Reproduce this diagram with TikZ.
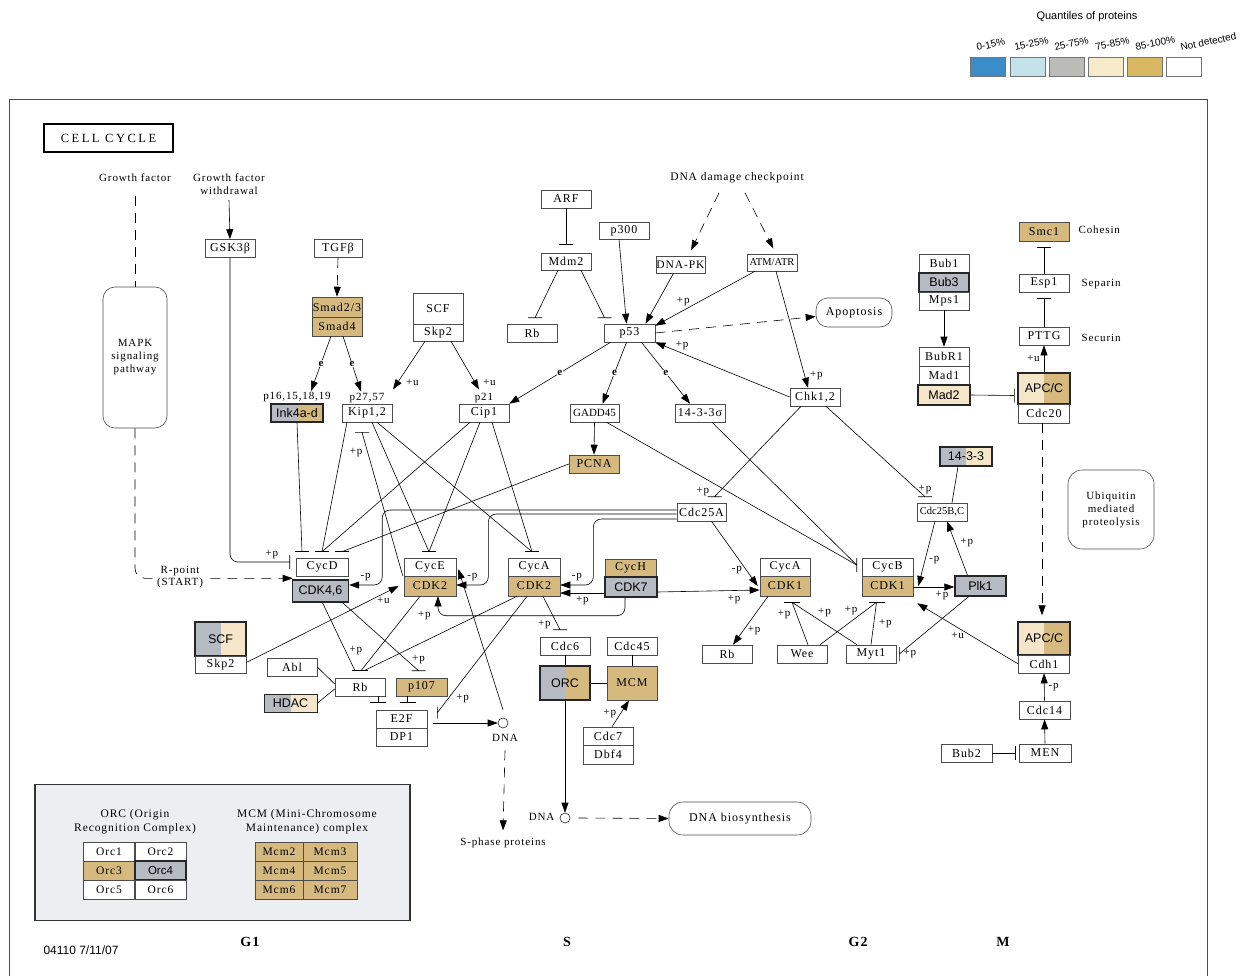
\documentclass[tikz,border=0pt]{standalone}
\usepackage{fontspec}
\setmainfont{Liberation Serif}[LetterSpace=8]
\setsansfont{Liberation Sans}
\usetikzlibrary{positioning}
\usetikzlibrary{arrows.meta}

% quantile colours (legend) and box colours
\definecolor{qblue}{HTML}{3B8DC9}
\definecolor{qlblue}{HTML}{C3E2EA}
\definecolor{qgrey}{HTML}{BBBBB7}
\definecolor{qcream}{HTML}{F7EBCB}
\definecolor{qtan}{HTML}{D9B864}
\definecolor{gtan}{HTML}{D5B97F}
\definecolor{gcream}{HTML}{F6E6C9}
\definecolor{ggrey}{HTML}{B5BAC3}
\definecolor{panelgrey}{HTML}{ECEEF1}

\begin{document}
\begin{tikzpicture}[x=1pt,y=-1pt,line width=0.6pt,font=\fontsize{11}{13}\selectfont,
  gene/.style={draw=black!70, fill=white, line width=0.6pt, minimum width=50pt, minimum height=18pt, inner sep=0pt, font=\fontsize{12}{12}\selectfont},
  qfive/.style={fill=gtan},
  qfour/.style={fill=gcream},
  qthree/.style={fill=ggrey},
  twotone/.style 2 args={path picture={
      \fill[#1] (path picture bounding box.south west) rectangle (path picture bounding box.north);
      \fill[#2] (path picture bounding box.south) rectangle (path picture bounding box.north east);}},
  found/.style={line width=1.4pt, draw=black!85, font=\sffamily\fontsize{12.5}{12}\selectfont},
  blob/.style={draw=black!70, line width=0.6pt, rounded corners=12pt, align=center},
  cell/.style={gene, minimum width=51pt, minimum height=19pt, font=\fontsize{11.5}{12}\selectfont},
  act/.style={-{Triangle[length=10pt,width=7pt]}},
  dline/.style={dash pattern=on 10pt off 7pt},
  lab/.style={font=\fontsize{11}{11}\selectfont, inner sep=1pt},
  elab/.style={midway, fill=white, inner sep=0.6pt, font=\bfseries\fontsize{11}{11}\selectfont}]
\useasboundingbox (0,0) rectangle (1258,976);

% legend
\node[font=\sffamily\fontsize{11}{12}\selectfont] (qtitle) at (1087,17) {Quantiles of proteins};
\foreach \fillc/\bx/\tx/\txt in {qblue/970/977/{0-15\%}, qlblue/1010/1015/{15-25\%}, qgrey/1049/1055/{25-75\%}, qcream/1088/1096/{75-85\%}, qtan/1127/1136/{85-100\%}, white/1166/1181/{Not detected}} {
  \draw[draw=black!55, fill=\fillc] (\bx,57) rectangle ++(35,19);
  \node[rotate=12, anchor=base west, inner sep=0pt, font=\sffamily\fontsize{10}{10}\selectfont] (q\bx) at (\tx,51) {\txt};
}

% frame and title
\draw[black!70, line width=0.9pt] (9,976) -- (9,99) -- (1207,99) -- (1207,976);
\node[draw, line width=1.4pt, minimum width=129pt, minimum height=28pt, font=\fontsize{12.5}{13}\selectfont\addfontfeature{LetterSpace=20}] (title) at (108.5,138) {CELL CYCLE};

% growth factor side
\node (gf) at (135,178) {Growth factor};
\node[align=center] (gfw) at (229,184) {Growth factor\\withdrawal};
\node[blob, minimum width=64pt, minimum height=141pt] (mapk) at (135,357.5) {MAPK\\signaling\\pathway};
\node[gene] (gsk) at (230,248.5) {GSK3β};
\node[gene, minimum width=48pt] (tgf) at (338,248.5) {TGFβ};
\node[gene, qfive, minimum height=20pt] (smadA) at (337,307) {Smad2/3};
\node[gene, qfive, minimum height=19pt] (smadB) at (337,326.5) {Smad4};
\node[gene, found, twotone={ggrey}{gtan}, minimum width=52pt] (ink) at (297,413) {Ink4a-d};
\node[gene] (kip) at (367,413) {Kip1,2};
\node[gene] (cip) at (484,413) {Cip1};
\node[inner sep=1pt, above=0pt of ink] (p16) {p16,15,18,19};
\node[inner sep=1pt, above=0pt of kip] (p27) {p27,57};
\node[inner sep=1pt, above=0pt of cip] (p21) {p21};
\node[gene, minimum height=31pt] (scf) at (438,308.5) {SCF};
\node[gene, minimum height=17pt] (skp2) at (438,332.5) {Skp2};

% p53 part
\node[gene] (arf) at (566,199) {ARF};
\node[gene, minimum height=17pt] (mdm2) at (566,261.5) {Mdm2};
\node[gene] (rbup) at (532,333) {Rb};
\node[gene, minimum height=17pt] (p300) at (624,230.5) {p300};
\node[gene, minimum width=51pt] (p53) at (629.5,333) {p53};
\node[gene, minimum width=49pt, minimum height=17pt, font=\fontsize{11.5}{12}\selectfont] (dnapk) at (680.5,264.5) {DNA-PK};
\node[gene, minimum height=17pt, font=\fontsize{10.5}{10}\selectfont\addfontfeature{LetterSpace=0}] (atm) at (772,262.5) {ATM/ATR};
\node[font=\fontsize{11.5}{13}\selectfont] (ddc) at (737,178) {DNA damage checkpoint};
\node[blob, minimum width=76pt, minimum height=29pt, font=\fontsize{12}{13}\selectfont] (apop) at (854,312.5) {Apoptosis};
\node[gene] (chk) at (815,397) {Chk1,2};
\node[gene, minimum width=49pt, font=\fontsize{11}{10}\selectfont\addfontfeature{LetterSpace=0}] (gadd) at (594.5,413) {GADD45};
\node[gene] (sigma) at (700,413) {14-3-3σ};
\node[gene, qfive] (pcna) at (594,464) {PCNA};
\node[gene, minimum width=49pt] (cdcA) at (701.5,512) {Cdc25A};
\node[gene, font=\fontsize{10.5}{10}\selectfont\addfontfeature{LetterSpace=0}] (cdcBC) at (942,512) {Cdc25B,C};
\node[gene, found, twotone={ggrey}{gcream}, minimum width=52pt, minimum height=19pt] (ftt) at (966,456.5) {14-3-3};

% spindle checkpoint and separation
\node[gene] (bub1) at (944,263) {Bub1};
\node[gene, qthree, found, minimum height=19pt] (bub3) at (944,282.5) {Bub3};
\node[gene] (mps1) at (944,301) {Mps1};
\node[gene, minimum height=19pt] (bubr1) at (944,356.5) {BubR1};
\node[gene, minimum height=19pt] (mad1) at (944,375.5) {Mad1};
\node[gene, qfour, found, minimum width=52pt, minimum height=20pt] (mad2) at (944,395) {Mad2};
\node[gene, found, twotone={gcream}{gtan}, minimum width=52pt, minimum height=31pt] (apcA) at (1044,388.5) {APC/C};
\node[gene, minimum width=51pt, minimum height=19pt] (cdc20) at (1044,413.5) {Cdc20};
\node[gene] (pttg) at (1044,336) {PTTG};
\node[gene] (esp1) at (1044,283) {Esp1};
\node[gene, qfive, minimum height=19pt] (smc1) at (1044,231.5) {Smc1};
\node[anchor=west] (cohesin) at (1075,230) {Cohesin};
\node[anchor=west] (separin) at (1078,284) {Separin};
\node[anchor=west] (securin) at (1078,338) {Securin};
\node[blob, minimum width=86pt, minimum height=79pt, rounded corners=14pt] (ubiq) at (1111,509.5) {Ubiquitin\\mediated\\proteolysis};

% cyclin/CDK row
\node[gene, minimum width=52pt] (cycd) at (322,567) {CycD};
\node[gene, qthree, found, minimum width=56pt, minimum height=22pt] (cdk46) at (320.5,591) {CDK4,6};
\node[gene, minimum width=52pt] (cyce) at (430,567) {CycE};
\node[gene, qfive, minimum width=52pt, minimum height=20pt] (cdk2e) at (430,586) {CDK2};
\node[gene, minimum width=52pt] (cycaA) at (534,567) {CycA};
\node[gene, qfive, minimum width=52pt, minimum height=20pt] (cdk2a) at (534,586) {CDK2};
\node[gene, qfive, minimum width=51pt] (cych) at (630.5,568) {CycH};
\node[gene, qthree, found, minimum width=52pt, minimum height=20pt] (cdk7) at (631,587) {CDK7};
\node[gene] (cycaB) at (785,567) {CycA};
\node[gene, qfive, minimum height=20pt] (cdk1a) at (785,586) {CDK1};
\node[gene, minimum width=51pt] (cycb) at (887.5,567) {CycB};
\node[gene, qfive, minimum width=51pt, minimum height=20pt] (cdk1b) at (887.5,586) {CDK1};
\node[gene, qthree, found, minimum width=51pt, minimum height=20pt] (plk1) at (980.5,586) {Plk1};
\node[gene] (rbmid) at (727,654) {Rb};
\node[gene] (wee) at (802,654) {Wee};
\node[gene] (myt1) at (871,654) {Myt1};

% G1/S part
\node[gene, found, twotone={ggrey}{gcream}, minimum width=51pt, minimum height=34pt] (scfL) at (220.5,639) {SCF};
\node[gene, minimum width=51pt, minimum height=17pt] (skp2L) at (220.5,664.5) {Skp2};
\node[gene] (abl) at (292,667) {Abl};
\node[gene, found, line width=1pt, twotone={ggrey}{gcream}, minimum width=53pt] (hdac) at (290.5,703) {HDAC};
\node[gene] (rb) at (360,687) {Rb};
\node[gene, qfive, minimum width=51pt] (p107) at (421.5,687) {p107};
\node[gene, minimum width=51pt] (e2f) at (401.5,719) {E2F};
\node[gene, minimum width=51pt] (dp1) at (401.5,737) {DP1};
\node[circle, draw=black!85, minimum size=10pt, inner sep=0pt] (dnaA) at (503,723) {};
\node (dnaAlab) at (505,738) {DNA};
\node[font=\fontsize{11}{11}\selectfont] (sphase) at (503,843) {S-phase proteins};
\node[gene] (cdc6) at (565,646) {Cdc6};
\node[gene, found, twotone={ggrey}{gtan}, minimum height=34pt] (orc) at (565,683) {ORC};
\node[gene] (cdc45) at (632,646) {Cdc45};
\node[gene, qfive, line width=1pt, minimum height=34pt] (mcm) at (632,683) {MCM};
\node[gene] (cdc7) at (608,736) {Cdc7};
\node[gene, minimum height=19pt] (dbf4) at (608,754.5) {Dbf4};
\node[circle, draw=black!85, minimum size=10pt, inner sep=0pt] (dnaB) at (565,818) {};
\node[anchor=east] (dnaBlab) at (558,817) {DNA};
\node[blob, minimum width=142pt, minimum height=33pt, rounded corners=14pt, font=\fontsize{12}{13}\selectfont] (dnabio) at (740,818.5) {DNA biosynthesis};

% M exit
\node[gene, found, twotone={gcream}{gtan}, minimum width=52pt, minimum height=33pt] (apcB) at (1044,638.5) {APC/C};
\node[gene, minimum width=51pt] (cdh1) at (1044,664) {Cdh1};
\node[gene, minimum width=51pt] (cdc14) at (1044.5,710) {Cdc14};
\node[gene, minimum width=52pt] (men) at (1045,753) {MEN};
\node[gene, minimum width=51pt] (bub2) at (966.5,753) {Bub2};

% ---- connections
\draw[dline] ([yshift=-10pt]gf.south) -- (mapk.north);
\draw[dline, act, rounded corners=10pt] (mapk.south) |- ([xshift=-3pt,yshift=-2pt]cycd.south west);
\node[fill=white, inner sep=1pt, align=center, font=\fontsize{11}{12}\selectfont] (rpoint) at (180,577) {R-point\\(START)};
\draw[act] ([yshift=-2pt]gfw.south) -- (gsk.north);
\draw[rounded corners=8pt] (gsk.south) |- ([xshift=-6pt,yshift=5pt]cycd.west) node[lab, pos=0.85, above=2pt] {+p} ++(0,-7) -- ++(0,14);

\draw[dline, act] (tgf.south) -- (smadA.north);
\draw[act] ([xshift=-6pt]smadB.south) -- ([xshift=14pt]p16.north) node[elab] {e};
\draw[act] ([xshift=6pt]smadB.south) -- ([xshift=-6pt]p27.north) node[elab] {e};
\draw[act] ([xshift=-13pt]skp2.south) -- ([xshift=26pt,yshift=2pt]p27.north) node[lab, pos=0.85, right=7pt] {+u};
\draw[act] ([xshift=13pt]skp2.south) -- ([xshift=-5pt,yshift=2pt]p21.north) node[lab, pos=0.85, right=7pt] {+u};

\draw (arf.south) -- ([yshift=8pt]mdm2.north) ++(-7,0) -- ++(14,0);
\draw ([xshift=-8pt]mdm2.south) -- ([xshift=3pt,yshift=6pt]rbup.north) ++(-7,0) -- ++(14,0);
\draw ([xshift=15pt]mdm2.south) -- ([xshift=-25pt,yshift=6pt]p53.north) ++(-7,0) -- ++(14,0);
\draw[act] ([xshift=-5pt]p300.south) -- ([xshift=-3pt]p53.north);
\draw[act] ([xshift=-7pt]dnapk.south) -- ([xshift=16pt]p53.north);
\draw[act] ([xshift=-17pt]atm.south) -- ([yshift=-2pt]p53.north east) node[lab, pos=0.72, above=3pt] {+p};
\draw[act] ([xshift=4pt]atm.south) -- ([xshift=-7pt]chk.north) node[lab, pos=0.9, right=4pt] {+p};
\draw[dline, act, shorten >=6pt] ([xshift=-18pt,yshift=-6pt]ddc.south) -- ([xshift=8pt]dnapk.north);
\draw[dline, act, shorten >=6pt] ([xshift=8pt,yshift=-6pt]ddc.south) -- ([xshift=4pt]atm.north);
\draw[dline, act] (p53.east) -- ([yshift=-4pt]apop.west);
\draw[act] (chk.west) -- (p53.south east) node[lab, pos=0.8, above=2pt] {+p};
\draw[act] ([xshift=-19pt]p53.south) -- (cip.north east) node[elab] {e};
\draw[act] ([xshift=-3pt]p53.south) -- ([xshift=8pt]gadd.north) node[elab] {e};
\draw[act] ([xshift=12pt]p53.south) -- ([xshift=-10pt]sigma.north) node[elab] {e};
\draw ([xshift=-14pt]chk.south) -- ([xshift=13pt,yshift=6pt]cdcA.north) node[lab, above left=0pt and 4pt] {+p} ++(-7,0) -- ++(14,0);
\draw ([xshift=11pt]chk.south) -- ([xshift=-17pt,yshift=6pt]cdcBC.north) node[lab, above=2pt] {+p} ++(-7,0) -- ++(14,0);
\draw[act] (gadd.south) -- (pcna.north);
\draw ([xshift=12pt]gadd.south) -- ([xshift=-5pt,yshift=2pt]cycb.west);
\draw ([xshift=12pt]sigma.south) -- ([xshift=-5pt,yshift=2pt]cycb.west) ++(0,-7) -- ++(0,14);

% CKIs on the G1 cyclins
\draw (pcna.west) -- ([xshift=20pt,yshift=6pt]cycd.north);
\draw (ink.south) -- ([xshift=-20pt,yshift=6pt]cycd.north);
\draw ([xshift=-20pt]kip.south) -- ([yshift=6pt]cycd.north);
\draw ([xshift=-14pt]cip.south) -- ([yshift=6pt]cycd.north);
\draw ([xshift=5pt]kip.south) -- ([xshift=-1pt,yshift=6pt]cyce.north);
\draw ([xshift=-4pt]cip.south) -- ([xshift=-1pt,yshift=6pt]cyce.north);
\draw ([xshift=10pt]kip.south) -- ([xshift=-2pt,yshift=6pt]cycaA.north);
\draw ([xshift=8pt]cip.south) -- ([xshift=-2pt,yshift=6pt]cycaA.north);
\foreach \n/\dx in {cycd/-20, cycd/0, cycd/20, cyce/-1, cycaA/-2}
  \draw ([xshift=\dx pt,yshift=6pt]\n.north) ++(-7,0) -- ++(14,0);
\draw ([xshift=-1pt]cdk2e.north west) -- ([xshift=-5pt,yshift=-10pt]kip.south) node[lab, pos=0.86, left=4pt] {+p} ++(-7,0) -- ++(14,0);

% Cdc25A on the CDKs
\draw[act, rounded corners=8pt] ([yshift=2pt]cdcA.west) -| ([xshift=33pt,yshift=6pt]cdk46.east) -- ([yshift=6pt]cdk46.east) node[lab, midway, above=3pt] {-p};
\draw[act, rounded corners=8pt] ([yshift=-2pt]cdcA.west) -| ([xshift=32pt,yshift=1pt]cdk2e.east) -- ([yshift=1pt]cdk2e.east) node[lab, midway, above=3pt] {-p};
\draw[act, rounded corners=8pt] ([yshift=-7pt]cdcA.west) -| ([xshift=33pt,yshift=1pt]cdk2a.east) -- ([yshift=1pt]cdk2a.east) node[lab, midway, above=3pt] {-p};

% CAK
\draw[act] ([yshift=-6pt]cdk7.west) -- ([yshift=-7pt]cdk2a.east) node[lab, midway, below=2pt] {+p};
\draw[act, rounded corners=8pt] ([xshift=-6pt]cdk7.south) -- ++(0,18) -| ([xshift=8pt]cdk2e.south) node[lab, pos=0.5, left=6pt] {+p};
\draw[act] ([yshift=-5pt]cdk7.east) -- ([yshift=-4pt]cdk1a.west) node[lab, pos=0.75, below=3pt] {+p};

% G2/M
\draw[act] ([xshift=10pt]cdcA.south) -- ([xshift=-2pt]cdk1a.west) node[lab, pos=0.75, left=3pt] {-p};
\draw[act] ([xshift=-17pt]cdk1a.south) -- ([xshift=6pt]rbmid.north) node[lab, pos=0.7, right=3pt] {+p};
\draw ([xshift=6pt]wee.north) -- ([xshift=7pt,yshift=-6pt]cdk1a.south) node[lab, pos=0.7, left=5pt] {+p};
\draw ([xshift=-14pt]myt1.north) -- ([xshift=7pt,yshift=-6pt]cdk1a.south) node[lab, pos=0.5, above=5pt] {+p};
\draw ([xshift=18pt]wee.north) -- ([xshift=-11pt,yshift=-6pt]cdk1b.south) node[lab, pos=0.55, above=5pt] {+p};
\draw (myt1.north) -- ([xshift=-11pt,yshift=-6pt]cdk1b.south) node[lab, pos=0.5, right=4pt] {+p};
\draw ([xshift=7pt,yshift=-6pt]cdk1a.south) ++(-8,0) -- ++(16,0);
\draw ([xshift=-11pt,yshift=-6pt]cdk1b.south) ++(-8,0) -- ++(16,0);
\draw ([xshift=-12pt]plk1.south) -- ([xshift=3pt]myt1.east) node[lab, right=3pt] {+p} ++(0,-7) -- ++(0,14);
\draw[act] ([yshift=-1pt]cdk1b.east) -- ([yshift=-1pt]plk1.west) node[lab, pos=0.7, below=3pt] {+p};
\draw[act] ([xshift=-7pt]cdcBC.south) -- ([xshift=5pt]cdk1b.east) node[lab, pos=0.6, right=3pt] {-p};
\draw[act] ([xshift=-13pt]plk1.north) -- ([xshift=5pt]cdcBC.south) node[lab, pos=0.6, right=4pt] {+p};
\draw ([xshift=-8pt]ftt.south) -- ([xshift=10pt]cdcBC.north);
\draw[act] (cdh1.west) -- ([xshift=4pt,yshift=-7pt]cdk1b.south east) node[lab, pos=0.6, below=3pt] {+u};

% spindle checkpoint, APC/C
\draw[act] (mps1.south) -- (bubr1.north);
\draw (mad2.east) -- ([xshift=-3pt,yshift=-7pt]apcA.west) ++(0,-7) -- ++(0,14);
\draw[act] (apcA.north) -- (pttg.south) node[lab, midway, left=3pt] {+u};
\draw (pttg.north) -- ([yshift=-6pt]esp1.south) ++(-7,0) -- ++(14,0);
\draw (esp1.north) -- ([yshift=-6pt]smc1.south) ++(-7,0) -- ++(14,0);
\draw[dline, act, shorten >=6pt] ([xshift=-2pt]cdc20.south) -- ([xshift=-2pt]apcB.north);
\draw[act] (cdc14.north) -- (cdh1.south) node[lab, midway, right=3pt] {-p};
\draw[act] (men.north) -- (cdc14.south);
\draw (bub2.east) -- ([xshift=-3pt]men.west) ++(0,-7) -- ++(0,14);

% Rb / E2F
\draw[act] ([yshift=2pt]skp2L.east) -- ([xshift=-5pt]cdk2e.west) node[lab, pos=0.9, below=2pt] {+u};
\draw (abl.east) -- ([yshift=3pt]rb.west);
\draw (hdac.east) -- ([yshift=-2pt]rb.west);
\draw ([xshift=2pt]cdk46.south) -- ([xshift=-5pt,yshift=7pt]rb.north) node[lab, pos=0.7, right=3pt] {+p};
\draw ([xshift=-10pt]cdk2e.south) -- ([xshift=1pt,yshift=7pt]rb.north);
\draw ([xshift=-17pt]cdk2a.south) -- ([xshift=4pt,yshift=7pt]rb.north);
\draw ([yshift=7pt]rb.north) ++(-8,0) -- ++(16,0);
\draw ([xshift=22pt]cdk46.south) -- ([xshift=-3pt,yshift=7pt]p107.north) node[lab, above=6pt] {+p} ++(-7,0) -- ++(14,0);
\draw ([xshift=18pt]rb.south) -- ([xshift=-23.5pt,yshift=7pt]e2f.north) ++(-8,0) -- ++(16,0);
\draw ([xshift=-14pt]p107.south) -- ([xshift=6pt,yshift=7pt]e2f.north) ++(-8,0) -- ++(16,0);
\draw ([xshift=-7pt]cdk2a.south) -- ([xshift=10pt,yshift=-3pt]e2f.north east) node[lab, pos=0.88, right=7pt] {+p} ++(0,-6) -- ++(0,12);
\draw[act] ([xshift=6pt,yshift=-4pt]e2f.east) -- (dnaA.west);
\draw[act] ([yshift=8pt]dnaA.north) -- ([xshift=2pt,yshift=-2pt]cyce.east);
\draw[dline, act] ([yshift=-5pt]dnaAlab.south) -- ([yshift=4pt]sphase.north);

% replication licensing
\draw ([xshift=9pt]cdk2a.south) -- ([xshift=-5pt,yshift=7pt]cdc6.north) node[lab, above left=0pt and 8pt] {+p} ++(-7,0) -- ++(14,0);
\draw (cdc6.south) -- (orc.north);
\draw (orc.east) -- (mcm.west);
\draw (cdc45.south) -- (mcm.north);
\draw[act] ([xshift=4pt]cdc7.north) -- ([xshift=-3pt]mcm.south) node[lab, midway, left=3pt] {+p};
\draw[act] (orc.south) -- (dnaB.north);
\draw[dline, act] ([xshift=8pt]dnaB.east) -- (dnabio.west);

% ORC / MCM panel
\node[draw=black!80, line width=1.4pt, fill=panelgrey, minimum width=375pt, minimum height=136pt] (panel) at (222.5,852.5) {};
\node[align=center, font=\fontsize{11.5}{14}\selectfont] (orcnote) at (135,822) {ORC (Origin\\Recognition Complex)};
\node[align=center, font=\fontsize{11.5}{14}\selectfont] (mcmnote) at (307,822) {MCM (Mini-Chromosome\\Maintenance) complex};
\node[cell] (orc1) at (109,851.5) {Orc1};
\node[cell] (orc2) at (160.5,851.5) {Orc2};
\node[cell, qfive] (orc3) at (109,870.5) {Orc3};
\node[cell, qthree, found, font=\sffamily\fontsize{11.5}{11}\selectfont] (orc4) at (160.5,870.5) {Orc4};
\node[cell] (orc5) at (109,889.5) {Orc5};
\node[cell] (orc6) at (160.5,889.5) {Orc6};
\node[cell, qfive, minimum width=48pt] (mcm2) at (279,851.5) {Mcm2};
\node[cell, qfive, minimum width=54pt] (mcm3) at (330,851.5) {Mcm3};
\node[cell, qfive, minimum width=48pt] (mcm4) at (279,870.5) {Mcm4};
\node[cell, qfive, minimum width=54pt] (mcm5) at (330,870.5) {Mcm5};
\node[cell, qfive, minimum width=48pt] (mcm6) at (279,889.5) {Mcm6};
\node[cell, qfive, minimum width=54pt] (mcm7) at (330,889.5) {Mcm7};

% phases
\node[font=\bfseries\fontsize{14}{14}\selectfont] (phG1) at (250,942) {G1};
\node[font=\bfseries\fontsize{14}{14}\selectfont] (phS) at (567,942) {S};
\node[font=\bfseries\fontsize{14}{14}\selectfont] (phG2) at (858,942) {G2};
\node[font=\bfseries\fontsize{14}{14}\selectfont] (phM) at (1003,942) {M};
\node[font=\sffamily\fontsize{12}{12}\selectfont] (stamp) at (81,950) {04110 7/11/07};
\end{tikzpicture}
\end{document}
